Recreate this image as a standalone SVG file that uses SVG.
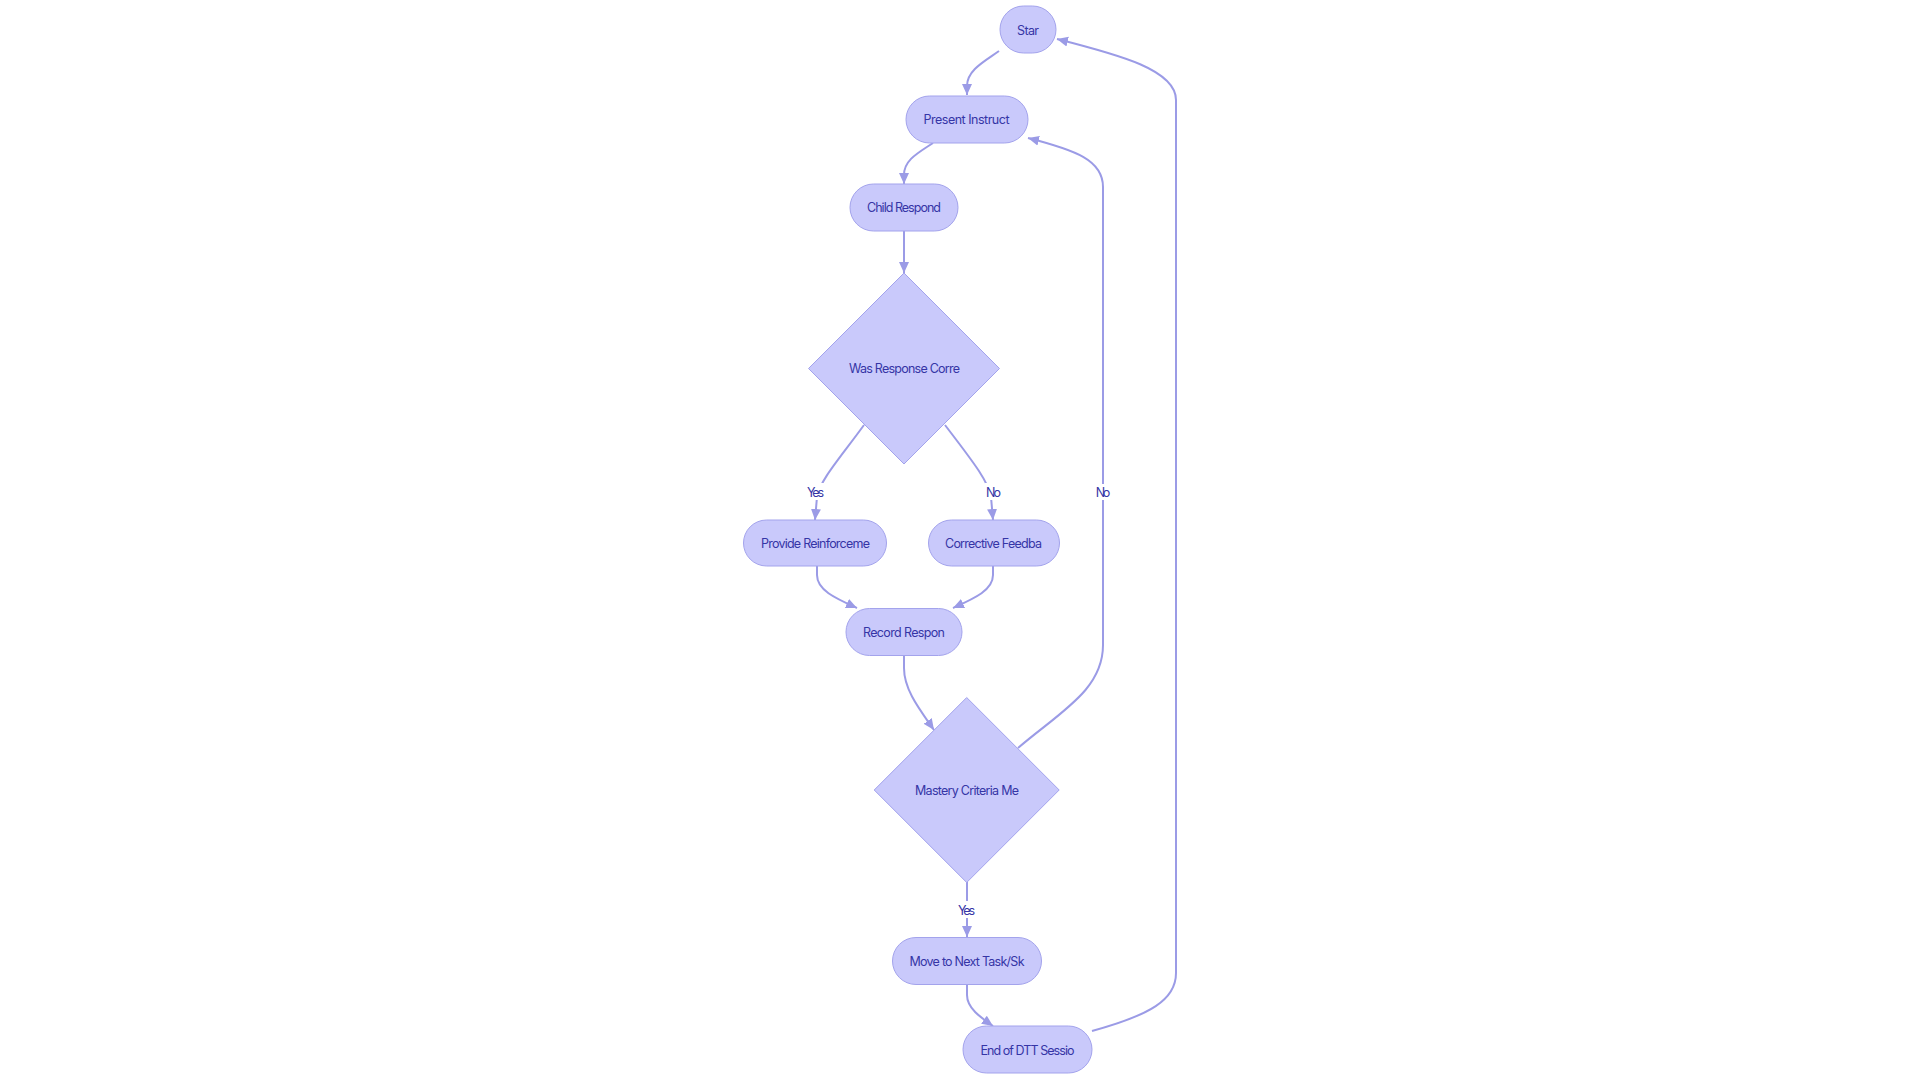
<svg xmlns="http://www.w3.org/2000/svg" width="1920" height="1080" viewBox="0 0 1920 1080">
<style>
.node{fill:#C9C9FB;stroke:#A3A3EC;stroke-width:1}
.lbl{font-family:Inter,"Noto Sans","DejaVu Sans",sans-serif;font-size:12.5px;fill:#3535A6;text-anchor:middle;dominant-baseline:central}
.edge{fill:none;stroke:#9B9BE6;stroke-width:2}
.elbg{fill:#FFFFFF}
</style>
<defs>
<marker id="arr" markerUnits="userSpaceOnUse" markerWidth="12" markerHeight="12" viewBox="0 0 12 12" refX="11" refY="6" orient="auto">
<path d="M0,1 L11,6 L0,11 Z" fill="#9B9BE6"/>
</marker>
</defs>
<rect width="1920" height="1080" fill="#FFFFFF"/>
<g id="connectors">
<path class="edge" d="M999,51 C985,61 967,70 967,86 L967,95" marker-end="url(#arr)"/>
<path class="edge" d="M933,143 C918,153 904,160 904,175 L904,184" marker-end="url(#arr)"/>
<path class="edge" d="M904,231 L904,273" marker-end="url(#arr)"/>
<path class="edge" d="M864,425 C840,458 820,480 817,497 L815,520" marker-end="url(#arr)"/>
<path class="edge" d="M945,425 C970,458 988,480 991,497 L993,520" marker-end="url(#arr)"/>
<path class="edge" d="M817,566 L817,575 C817,590 835,598 857,608" marker-end="url(#arr)"/>
<path class="edge" d="M993,566 L993,575 C993,590 975,598 953,608" marker-end="url(#arr)"/>
<path class="edge" d="M904,656 L904,668 C904,690 920,710 934,730" marker-end="url(#arr)"/>
<path class="edge" d="M1018,748 C1060,712 1103,690 1103,645 L1103,187 C1103,160 1075,150 1028,138" marker-end="url(#arr)"/>
<path class="edge" d="M967,882 L967,937" marker-end="url(#arr)"/>
<path class="edge" d="M967,984 L967,995 C967,1008 980,1017 993,1026" marker-end="url(#arr)"/>
<path class="edge" d="M1092,1031 C1150,1015 1176,1000 1176,973 L1176,100 C1176,70 1120,55 1057,39" marker-end="url(#arr)"/>
<rect class="elbg" x="806" y="483" width="19" height="17"/>
<text class="lbl" x="815.5" y="492" textLength="17">Yes</text>
<rect class="elbg" x="985" y="483" width="17" height="17"/>
<text class="lbl" x="993.5" y="492" textLength="15">No</text>
<rect class="elbg" x="1094" y="484" width="18" height="16"/>
<text class="lbl" x="1103" y="492" textLength="14.5">No</text>
<rect class="elbg" x="957" y="901" width="19" height="17"/>
<text class="lbl" x="966.5" y="910" textLength="17">Yes</text>
</g>
<g id="start">
<rect class="node" x="1000" y="6" width="56" height="47" rx="23.5" ry="23.5"/>
<text class="lbl" x="1028" y="30" textLength="22">Star</text>
</g>
<g id="present">
<rect class="node" x="906" y="96" width="122" height="47" rx="23.5" ry="23.5"/>
<text class="lbl" x="966.5" y="119.5" textLength="86">Present Instruct</text>
</g>
<g id="child">
<rect class="node" x="850" y="184" width="108" height="47" rx="23.5" ry="23.5"/>
<text class="lbl" x="904" y="207.5" textLength="74">Child Respond</text>
</g>
<g id="correct">
<polygon class="node" points="904,273 999.5,368.5 904,464 808.5,368.5"/>
<text class="lbl" x="904.5" y="368.5" textLength="111">Was Response Corre</text>
</g>
<g id="reinforce">
<rect class="node" x="743.5" y="520" width="143" height="46" rx="23" ry="23"/>
<text class="lbl" x="815.5" y="543" textLength="109">Provide Reinforceme</text>
</g>
<g id="corrective">
<rect class="node" x="928.5" y="520" width="131" height="46" rx="23" ry="23"/>
<text class="lbl" x="993.5" y="543" textLength="97">Corrective Feedba</text>
</g>
<g id="record">
<rect class="node" x="846" y="608.5" width="116" height="47" rx="23.5" ry="23.5"/>
<text class="lbl" x="904" y="632" textLength="82">Record Respon</text>
</g>
<g id="mastery">
<polygon class="node" points="966.7,697.5 1059.2,790 966.7,882.5 874.2,790"/>
<text class="lbl" x="967" y="790" textLength="104">Mastery Criteria Me</text>
</g>
<g id="next">
<rect class="node" x="892.5" y="937.5" width="149" height="47" rx="23.5" ry="23.5"/>
<text class="lbl" x="967" y="961" textLength="115">Move to Next Task/Sk</text>
</g>
<g id="end">
<rect class="node" x="963" y="1026" width="129" height="47" rx="23.5" ry="23.5"/>
<text class="lbl" x="1027.5" y="1050" textLength="94">End of DTT Sessio</text>
</g>
</svg>
